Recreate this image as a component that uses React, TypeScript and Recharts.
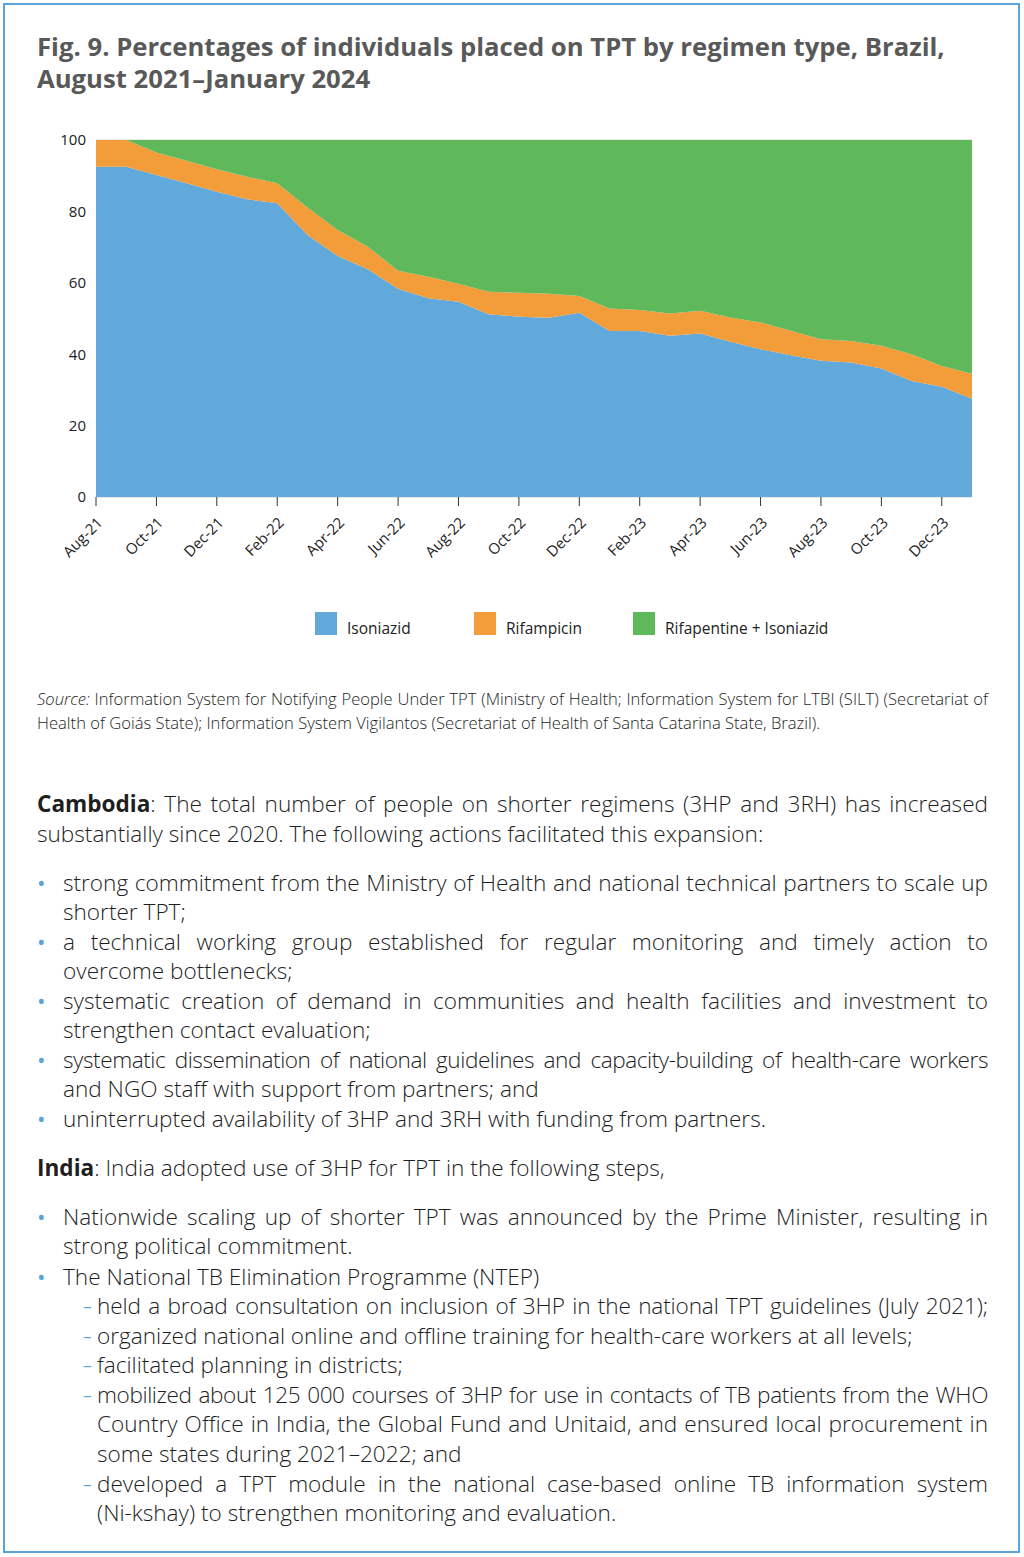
import React from "react";
import { AreaChart, Area, XAxis, YAxis, CartesianGrid, Legend } from "recharts";

const months = [
  "Aug-21", "Sep-21", "Oct-21", "Nov-21", "Dec-21", "Jan-22", "Feb-22", "Mar-22",
  "Apr-22", "May-22", "Jun-22", "Jul-22", "Aug-22", "Sep-22", "Oct-22", "Nov-22",
  "Dec-22", "Jan-23", "Feb-23", "Mar-23", "Apr-23", "May-23", "Jun-23", "Jul-23",
  "Aug-23", "Sep-23", "Oct-23", "Nov-23", "Dec-23", "Jan-24",
];

const isoniazid = [
  92.5, 92.5, 90.2, 87.9, 85.5, 83.4, 82.3, 73.4, 67.5, 63.8, 58.3, 55.7, 54.7, 51.2, 50.5,
  50.2, 51.6, 46.5, 46.5, 45.2, 45.8, 43.5, 41.4, 39.7, 38.2, 37.7, 36.0, 32.5, 30.9, 27.5,
];

const rifampicin = [
  7.5, 7.5, 6.3, 6.3, 6.3, 6.3, 5.6, 7.7, 7.3, 6.3, 5.1, 6.0, 5.0, 6.3, 6.7,
  6.7, 4.7, 6.3, 5.9, 6.2, 6.4, 6.8, 7.5, 6.9, 6.0, 6.0, 6.4, 7.5, 5.8, 7.0,
];

const rifapentine = [
  0, 0, 3.5, 5.8, 8.2, 10.3, 12.1, 18.9, 25.2, 29.9, 36.6, 38.3, 40.3, 42.5, 42.8,
  43.1, 43.7, 47.2, 47.6, 48.6, 47.8, 49.7, 51.1, 53.4, 55.8, 56.3, 57.6, 60.0, 63.3, 65.5,
];

const yTicks = [0, 20, 40, 60, 80, 100];

const series = [
  { key: "isoniazid", name: "Isoniazid", color: "#62a9db" },
  { key: "rifampicin", name: "Rifampicin", color: "#f39c3a" },
  { key: "rifapentine", name: "Rifapentine + Isoniazid", color: "#5fb95b" },
];

const data = months.map((m, i) => ({
  month: m,
  isoniazid: isoniazid[i],
  rifampicin: rifampicin[i],
  rifapentine: rifapentine[i],
}));

const FONT = "'Open Sans', 'Noto Sans', sans-serif";
const BLUE = "#5ba4da";

const XTick = (props: any) => {
  const { x, y, payload } = props;
  return (
    <g transform={`translate(${x + 2},${y + 10})`}>
      <text x={0} y={0} dy={8} textAnchor="end" transform="rotate(-45)" fontSize={15} fill="#222" fontFamily={FONT}>
        {payload.value}
      </text>
    </g>
  );
};

const legendLeft = [315, 474, 633];

const LegendBox = () => (
  <div style={{ position: "relative", height: 93, width: 1024, fontFamily: FONT }}>
    {series.map((s, i) => (
      <div key={s.key} style={{ position: "absolute", left: legendLeft[i], top: 45 }}>
        <div style={{ width: 22, height: 23, background: s.color }} />
        <div style={{ position: "absolute", left: 32, top: 6, fontSize: 15.5, lineHeight: "20px", color: "#222", whiteSpace: "nowrap" }}>
          {s.name}
        </div>
      </div>
    ))}
  </div>
);

type LineProps = {
  y: number; x: number; w: number; j?: boolean; mark?: string; size: number; lh: number;
  children: React.ReactNode; weight?: number; color?: string; ls?: number;
};

const Line = ({ y, x, w, j, mark, size, lh, children, weight = 300, color = "#1e1e1e", ls = 0 }: LineProps) => (
  <>
    {mark === "•" && (
      <div style={{ position: "absolute", left: 37, top: y - lh / 2, fontSize: size, lineHeight: `${lh}px`, color: BLUE, fontFamily: FONT }}>
        •
      </div>
    )}
    {mark === "–" && (
      <div style={{ position: "absolute", left: 83, top: y - lh / 2, fontSize: 17, lineHeight: `${lh}px`, color: BLUE, fontFamily: FONT }}>
        –
      </div>
    )}
    <div
      style={{
        position: "absolute",
        left: x,
        top: y - lh / 2,
        width: w,
        fontSize: size,
        lineHeight: `${lh}px`,
        fontWeight: weight,
        letterSpacing: ls,
        color,
        fontFamily: FONT,
        textAlign: j ? "justify" : "left",
        textAlignLast: j ? "justify" : "left",
        whiteSpace: j ? "normal" : "nowrap",
      }}
    >
      {children}
    </div>
  </>
);

const B = ({ children }: { children: React.ReactNode }) => <span style={{ fontWeight: 700 }}>{children}</span>;

export default function App() {
  const bs = 22.6;
  const blh = 29;
  const ss = 16.6;
  return (
    <div style={{ position: "relative", width: 1024, height: 1557, background: "#fff", overflow: "hidden" }}>
      <style>{`body{margin:0}`}</style>
      <div style={{ position: "absolute", left: 3, top: 3, width: 1017, height: 1550, border: `2px solid ${BLUE}`, boxSizing: "border-box" }} />

      <Line y={47} x={37} w={970} size={25.7} lh={32} weight={700} color="#595959">
        Fig. 9. Percentages of individuals placed on TPT by regimen type, Brazil,
      </Line>
      <Line y={79} x={37} w={970} size={25.7} lh={32} weight={700} color="#595959">
        August 2021–January 2024
      </Line>

      <div style={{ position: "absolute", left: 0, top: 120 }}>
        <AreaChart width={1024} height={540} data={data} margin={{ top: 20, right: 52, left: 36, bottom: 0 }}>
          <CartesianGrid vertical={false} stroke="#d4d4d4" />
          <XAxis
            dataKey="month"
            interval={1}
            height={70}
            tick={<XTick />}
            tickSize={9}
            tickLine={{ stroke: "#333" }}
            axisLine={false}
          />
          <YAxis
            width={60}
            domain={[0, 100]}
            ticks={yTicks}
            axisLine={false}
            tickLine={false}
            tickMargin={4}
            tick={{ fontSize: 15, fill: "#222", fontFamily: FONT }}
          />
          {series.map((s) => (
            <Area
              key={s.key}
              type="linear"
              dataKey={s.key}
              name={s.name}
              stackId="a"
              stroke="none"
              fill={s.color}
              fillOpacity={1}
              isAnimationActive={false}
            />
          ))}
          <Legend verticalAlign="bottom" content={<LegendBox />} wrapperStyle={{ left: 0, width: 1024 }} />
        </AreaChart>
      </div>

      <Line y={699} x={37} w={951} j size={ss} lh={24}>
        <i>Source:</i> Information System for Notifying People Under TPT (Ministry of Health; Information System for LTBI (SILT) (Secretariat of
      </Line>
      <Line y={723} x={37} w={951} size={ss} lh={24}>
        Health of Goiás State); Information System Vigilantos (Secretariat of Health of Santa Catarina State, Brazil).
      </Line>

      <Line y={803} x={37} w={951} j size={bs} lh={blh}>
        <B>Cambodia</B>: The total number of people on shorter regimens (3HP and 3RH) has increased
      </Line>
      <Line y={833} x={37} w={951} size={bs} lh={blh}>
        substantially since 2020. The following actions facilitated this expansion:
      </Line>
      <Line y={882} x={63} w={925} j mark="•" size={bs} lh={blh}>
        strong commitment from the Ministry of Health and national technical partners to scale up
      </Line>
      <Line y={911} x={63} w={925} size={bs} lh={blh}>shorter TPT;</Line>
      <Line y={941} x={63} w={925} j mark="•" size={bs} lh={blh}>
        a technical working group established for regular monitoring and timely action to
      </Line>
      <Line y={970} x={63} w={925} size={bs} lh={blh}>overcome bottlenecks;</Line>
      <Line y={1000} x={63} w={925} j mark="•" size={bs} lh={blh}>
        systematic creation of demand in communities and health facilities and investment to
      </Line>
      <Line y={1029} x={63} w={925} size={bs} lh={blh}>strengthen contact evaluation;</Line>
      <Line y={1059} x={63} w={925} j mark="•" size={bs} lh={blh} ls={-0.45}>
        systematic dissemination of national guidelines and capacity-building of health-care workers
      </Line>
      <Line y={1088} x={63} w={925} size={bs} lh={blh}>and NGO staff with support from partners; and</Line>
      <Line y={1118} x={63} w={925} mark="•" size={bs} lh={blh}>
        uninterrupted availability of 3HP and 3RH with funding from partners.
      </Line>

      <Line y={1167} x={37} w={951} size={bs} lh={blh}>
        <B>India</B>: India adopted use of 3HP for TPT in the following steps,
      </Line>
      <Line y={1216} x={63} w={925} j mark="•" size={bs} lh={blh}>
        Nationwide scaling up of shorter TPT was announced by the Prime Minister, resulting in
      </Line>
      <Line y={1245} x={63} w={925} size={bs} lh={blh}>strong political commitment.</Line>
      <Line y={1276} x={63} w={925} mark="•" size={bs} lh={blh}>The National TB Elimination Programme (NTEP)</Line>
      <Line y={1305} x={97} w={891} j mark="–" size={bs} lh={blh} ls={-0.15}>
        held a broad consultation on inclusion of 3HP in the national TPT guidelines (July 2021);
      </Line>
      <Line y={1335} x={97} w={891} mark="–" size={bs} lh={blh}>
        organized national online and offline training for health-care workers at all levels;
      </Line>
      <Line y={1364} x={97} w={891} mark="–" size={bs} lh={blh}>facilitated planning in districts;</Line>
      <Line y={1394} x={97} w={891} j mark="–" size={bs} lh={blh} ls={-0.4}>
        mobilized about 125 000 courses of 3HP for use in contacts of TB patients from the WHO
      </Line>
      <Line y={1423} x={97} w={891} j size={bs} lh={blh}>
        Country Office in India, the Global Fund and Unitaid, and ensured local procurement in
      </Line>
      <Line y={1453} x={97} w={891} size={bs} lh={blh}>some states during 2021–2022; and</Line>
      <Line y={1483} x={97} w={891} j mark="–" size={bs} lh={blh}>
        developed a TPT module in the national case-based online TB information system
      </Line>
      <Line y={1512} x={97} w={891} size={bs} lh={blh}>(Ni-kshay) to strengthen monitoring and evaluation.</Line>
    </div>
  );
}
